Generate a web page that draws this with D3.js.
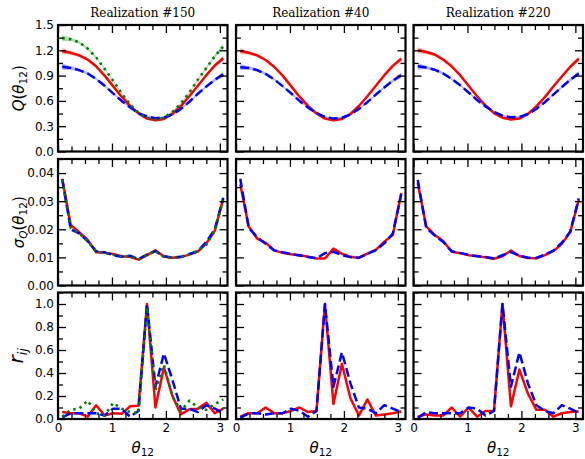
<!DOCTYPE html>
<html><head><meta charset="utf-8">
<script src="https://cdn.jsdelivr.net/npm/d3@7"></script>
<style>body{margin:0;background:#fff}svg{display:block}</style>
</head><body>
<script>
// ---------- data ----------
const theta = [0.079,0.236,0.393,0.550,0.707,0.864,1.021,1.178,1.335,1.492,1.649,1.806,1.963,2.121,2.278,2.435,2.592,2.749,2.906,3.063];
const titles = ["Realization #150","Realization #40","Realization #220"];

const qRed = [
 [1.19,1.17,1.14,1.09,1.01,0.90,0.775,0.65,0.54,0.45,0.39,0.37,0.385,0.445,0.54,0.655,0.78,0.905,1.02,1.105],
 [1.19,1.17,1.14,1.085,1.005,0.90,0.775,0.65,0.54,0.45,0.39,0.37,0.385,0.445,0.54,0.655,0.78,0.905,1.015,1.10],
 [1.20,1.18,1.15,1.09,1.01,0.905,0.78,0.655,0.545,0.455,0.40,0.38,0.39,0.445,0.535,0.645,0.77,0.89,1.005,1.10]];
const qBlue = [
 [1.005,0.99,0.965,0.925,0.86,0.78,0.69,0.60,0.525,0.455,0.415,0.395,0.405,0.44,0.505,0.59,0.685,0.77,0.85,0.915],
 [1.0,0.99,0.965,0.92,0.855,0.775,0.69,0.60,0.52,0.455,0.41,0.39,0.40,0.44,0.505,0.585,0.675,0.76,0.84,0.905],
 [1.01,0.995,0.97,0.925,0.86,0.785,0.70,0.61,0.535,0.47,0.425,0.405,0.41,0.445,0.505,0.585,0.675,0.765,0.85,0.925]];
const qGreen = [1.345,1.33,1.295,1.22,1.115,0.98,0.84,0.69,0.56,0.46,0.395,0.38,0.40,0.47,0.57,0.70,0.85,0.99,1.13,1.245];

const sRed = [
 [0.038,0.0215,0.019,0.0162,0.0118,0.0117,0.0112,0.0104,0.0102,0.0092,0.0108,0.0125,0.0103,0.0099,0.0101,0.011,0.0121,0.015,0.0195,0.031],
 [0.036,0.021,0.0167,0.0152,0.0125,0.0116,0.0111,0.0108,0.0102,0.0096,0.0096,0.0131,0.0113,0.0102,0.0098,0.0113,0.0127,0.0156,0.018,0.0329],
 [0.0365,0.021,0.018,0.0158,0.012,0.0115,0.0108,0.0105,0.01,0.0095,0.0104,0.0124,0.0105,0.0098,0.0097,0.0108,0.0122,0.0148,0.019,0.0305]];
const sBlue = [
 [0.0378,0.020,0.0185,0.0158,0.0122,0.0118,0.0108,0.0102,0.0106,0.0094,0.011,0.0122,0.0104,0.0099,0.0102,0.0112,0.0122,0.0155,0.020,0.0312],
 [0.038,0.0205,0.0172,0.0148,0.0125,0.0118,0.0112,0.0107,0.0101,0.0097,0.0115,0.012,0.0108,0.0101,0.0099,0.0112,0.0126,0.015,0.0185,0.0325],
 [0.0375,0.0205,0.0178,0.0155,0.0122,0.0116,0.0109,0.0104,0.0101,0.0096,0.0108,0.0119,0.0106,0.0099,0.0098,0.0110,0.0124,0.0152,0.0192,0.031]];
const sGreen = [0.0375,0.0205,0.0185,0.0158,0.0120,0.0116,0.0110,0.0103,0.0104,0.0092,0.0108,0.0123,0.0102,0.0098,0.0101,0.0111,0.0123,0.0145,0.0195,0.0305];

const rRed = [
 [0.06,0.05,0.05,0.02,0.12,0.03,0.05,0.045,0.11,0.115,1.0,0.10,0.45,0.20,0.04,0.085,0.09,0.14,0.05,0.09],
 [0.02,0.05,0.05,0.10,0.05,0.05,0.07,0.10,0.06,0.07,1.0,0.13,0.48,0.18,0.03,0.17,0.03,0.04,0.05,0.065],
 [0.02,0.04,0.03,0.03,0.10,0.02,0.10,0.02,0.07,0.07,1.0,0.11,0.43,0.22,0.08,0.08,0.02,0.05,0.06,0.065]];
const rBlue = [
 [0.015,0.05,0.05,0.05,0.05,0.03,0.09,0.09,0.02,0.07,1.0,0.28,0.57,0.34,0.09,0.09,0.06,0.12,0.09,0.05],
 [0.01,0.05,0.05,0.04,0.05,0.05,0.09,0.07,0.02,0.07,1.0,0.28,0.58,0.31,0.10,0.09,0.05,0.12,0.09,0.06],
 [0.01,0.06,0.05,0.05,0.05,0.05,0.10,0.09,0.03,0.07,1.0,0.28,0.58,0.31,0.12,0.07,0.05,0.12,0.09,0.05]];
const rGreen = [0.02,0.08,0.09,0.16,0.05,0.03,0.14,0.09,0.06,0.05,0.97,0.25,0.47,0.20,0.07,0.16,0.10,0.08,0.13,0.17];

const xMajor = [0,1,2,3];
const xMinor = [0.25,0.5,0.75,1.25,1.5,1.75,2.25,2.5,2.75];
const rowTicks = [
 {major:[0,0.3,0.6,0.9,1.2,1.5], minor:[0.15,0.45,0.75,1.05,1.35], fmt:".1f", dom:[0,1.5]},
 {major:[0,0.01,0.02,0.03,0.04], minor:[0.005,0.015,0.025,0.035,0.045], fmt:".2f", dom:[0,0.045]},
 {major:[0,0.2,0.4,0.6,0.8,1.0], minor:[0.1,0.3,0.5,0.7,0.9,1.1], fmt:".1f", dom:[0,1.1]}];

// ---------- layout ----------
const W=585,H=459;
const colX=[58,236,413.5], pw=169.5;
const rowY=[25,159,292.5], ph=126.5;
const RED="#ff0000", BLUE="#0000ff", GREEN="#008000";
const FONT="DejaVu Sans, sans-serif";

const svg=d3.select("body").append("svg").attr("width",W).attr("height",H)
  .style("font-family",FONT);

const x=d3.scaleLinear().domain([0,Math.PI]).range([0,pw]);

function addLine(g, xs, ys, y, color, style){
  const line=d3.line().x((d,i)=>x(xs[i])).y(d=>y(d));
  const p=g.append("path").datum(ys).attr("d",line).attr("fill","none")
    .attr("stroke",color).attr("stroke-width",2.5).attr("stroke-linejoin","round");
  if(style==="dash") p.attr("stroke-dasharray","9,4");
  if(style==="dot") p.attr("stroke-dasharray","2.5,4.2").attr("stroke-width",2.6);
  return p;
}
function addBand(g, xs, ys, ss, y, color){
  const area=d3.area().x((d,i)=>x(xs[i])).y0((d,i)=>y(d-ss[i])).y1((d,i)=>y(d+ss[i]));
  g.append("path").datum(ys).attr("d",area).attr("fill",color).attr("opacity",0.3);
}

for(let r=0;r<3;r++){
  const rt=rowTicks[r];
  const y=d3.scaleLinear().domain(rt.dom).range([ph,0]);
  for(let c=0;c<3;c++){
    const g=svg.append("g").attr("transform",`translate(${colX[c]},${rowY[r]})`);
    if(r===0){
      addBand(g,theta,qRed[c],sRed[c],y,RED);
      addBand(g,theta,qBlue[c],sBlue[c],y,BLUE);
      if(c===0) addBand(g,theta,qGreen,sGreen,y,GREEN);
      addLine(g,theta,qRed[c],y,RED,"solid");
      addLine(g,theta,qBlue[c],y,BLUE,"dash");
      if(c===0) addLine(g,theta,qGreen,y,GREEN,"dot");
    } else if(r===1){
      addLine(g,theta,sRed[c],y,RED,"solid");
      addLine(g,theta,sBlue[c],y,BLUE,"dash");
      if(c===0) addLine(g,theta,sGreen,y,GREEN,"dot");
    } else {
      addLine(g,theta,rRed[c],y,RED,"solid");
      addLine(g,theta,rBlue[c],y,BLUE,"dash");
      if(c===0) addLine(g,theta,rGreen,y,GREEN,"dot");
    }
    // ticks
    const MJ=8, MN=5;
    const mk=(axis,vals,size,tr,labels)=>{
      const a=g.append("g").attr("transform",tr)
        .call(axis.tickValues(vals).tickSize(-size).tickPadding(4)
          .tickFormat(labels?labels:""));
      a.select(".domain").remove();
      a.selectAll("line").attr("stroke","#000").attr("stroke-width",1.3);
      a.selectAll("text").attr("font-size",12).attr("font-family",FONT).attr("fill","#000");
      return a;
    };
    mk(d3.axisBottom(x),xMajor,MJ,`translate(0,${ph})`, r===2? d3.format("d"):null);
    mk(d3.axisBottom(x),xMinor,MN,`translate(0,${ph})`,null);
    mk(d3.axisTop(x),xMajor,MJ,`translate(0,0)`,null);
    mk(d3.axisTop(x),xMinor,MN,`translate(0,0)`,null);
    mk(d3.axisLeft(y),rt.major,MJ,`translate(0,0)`, c===0? d3.format(rt.fmt):null);
    mk(d3.axisLeft(y),rt.minor,MN,`translate(0,0)`,null);
    mk(d3.axisRight(y),rt.major,MJ,`translate(${pw},0)`,null);
    mk(d3.axisRight(y),rt.minor,MN,`translate(${pw},0)`,null);
    g.append("rect").attr("x",0).attr("y",0).attr("width",pw).attr("height",ph)
      .attr("fill","none").attr("stroke","#000").attr("stroke-width",2.2);
    if(r===0){
      svg.append("text").attr("x",colX[c]+pw/2).attr("y",16.5).attr("text-anchor","middle")
        .attr("font-family","DejaVu Serif, serif").attr("font-size",12).text(titles[c]);
    }
    if(r===2){
      const t=svg.append("text").attr("x",colX[c]+pw/2).attr("y",452.5).attr("text-anchor","middle")
        .attr("font-size",15);
      t.append("tspan").attr("font-style","italic").text("θ");
      t.append("tspan").attr("font-size",10.5).attr("dy",3).text("12");
    }
  }
}
// y labels
function ylab(cx,cy,build,size){
  const t=svg.append("text").attr("transform",`translate(${cx},${cy}) rotate(-90)`)
    .attr("text-anchor","middle").attr("font-size",size);
  build(t);
}
ylab(24,rowY[0]+ph/2,t=>{
  t.append("tspan").attr("font-style","italic").text("Q");
  t.append("tspan").text("(");
  t.append("tspan").attr("font-style","italic").text("θ");
  t.append("tspan").attr("font-size",10.5).attr("dy",3).text("12");
  t.append("tspan").attr("dy",-3).text(")");
},15);
ylab(24,rowY[1]+ph/2,t=>{
  t.append("tspan").attr("font-style","italic").text("σ");
  t.append("tspan").attr("font-style","italic").attr("font-size",10.5).attr("dy",3).text("Q");
  t.append("tspan").attr("dy",-3).text("(");
  t.append("tspan").attr("font-style","italic").text("θ");
  t.append("tspan").attr("font-size",10.5).attr("dy",3).text("12");
  t.append("tspan").attr("dy",-3).text(")");
},15);
ylab(23,rowY[2]+ph/2,t=>{
  t.append("tspan").attr("font-style","italic").text("r");
  t.append("tspan").attr("font-style","italic").attr("font-size",13).attr("dy",4).text("ij");
},20);
</script>
</body></html>
